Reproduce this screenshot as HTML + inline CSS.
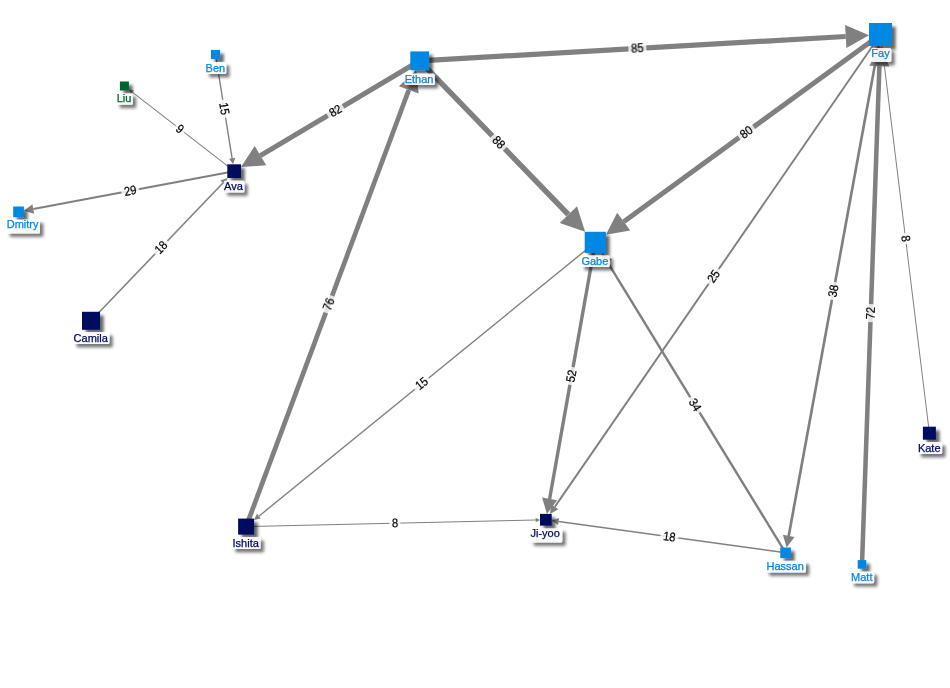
<!DOCTYPE html>
<html><head><meta charset="utf-8"><title>Graph</title>
<style>
html,body{margin:0;padding:0;background:#fff;}
body{width:950px;height:688px;overflow:hidden;}
svg{display:block;font-family:"Liberation Sans",Arial,sans-serif;font-size:11px;}
.el{fill:#000;text-anchor:middle;font-size:12.4px;stroke:#000;stroke-width:0.2px;}
.nl{text-anchor:middle;stroke-width:0.25px;}
</style></head><body>
<svg width="950" height="688" viewBox="0 0 950 688">
<defs>
<filter id="sh" x="-50%" y="-50%" width="220%" height="220%">
<feDropShadow dx="3.7" dy="3.7" stdDeviation="1.6" flood-color="#000" flood-opacity="0.6"/>
</filter>
<filter id="sh2" x="-50%" y="-50%" width="220%" height="220%">
<feDropShadow dx="3.4" dy="3.4" stdDeviation="1.45" flood-color="#000" flood-opacity="0.6"/>
</filter>
</defs>
<rect width="950" height="688" fill="#fff"/>

<g><line x1="215.5" y1="54.5" x2="232.1" y2="158.3" stroke="#808080" stroke-width="1.39"/>
<line x1="234.2" y1="171.2" x2="132.6" y2="92.4" stroke="#808080" stroke-width="1.05"/>
<line x1="234.2" y1="171.2" x2="33.3" y2="209.0" stroke="#808080" stroke-width="2.16"/>
<line x1="91.0" y1="320.8" x2="222.9" y2="183.0" stroke="#808080" stroke-width="1.55"/>
<line x1="419.7" y1="60.8" x2="260.4" y2="155.6" stroke="#808080" stroke-width="5.07"/>
<line x1="419.7" y1="60.8" x2="845.7" y2="36.5" stroke="#808080" stroke-width="5.24"/>
<line x1="419.7" y1="60.8" x2="568.3" y2="214.5" stroke="#808080" stroke-width="5.40"/>
<line x1="880.5" y1="34.5" x2="623.7" y2="221.7" stroke="#808080" stroke-width="4.96"/>
<line x1="246.1" y1="526.6" x2="408.8" y2="90.0" stroke="#808080" stroke-width="4.74"/>
<line x1="595.3" y1="242.4" x2="258.9" y2="516.2" stroke="#808080" stroke-width="1.39"/>
<line x1="595.3" y1="242.4" x2="549.6" y2="499.0" stroke="#808080" stroke-width="3.42"/>
<line x1="785.6" y1="552.8" x2="607.5" y2="262.2" stroke="#808080" stroke-width="2.43"/>
<line x1="880.5" y1="34.5" x2="554.8" y2="506.9" stroke="#808080" stroke-width="1.94"/>
<line x1="880.5" y1="34.5" x2="788.7" y2="535.9" stroke="#808080" stroke-width="2.65"/>
<line x1="862.0" y1="564.4" x2="879.4" y2="66.1" stroke="#808080" stroke-width="4.52"/>
<line x1="929.4" y1="433.2" x2="882.5" y2="50.4" stroke="#808080" stroke-width="1.00"/>
<line x1="246.1" y1="526.6" x2="535.6" y2="520.0" stroke="#808080" stroke-width="1.00"/>
<line x1="785.6" y1="552.8" x2="558.6" y2="521.5" stroke="#808080" stroke-width="1.55"/></g>

<g><polygon points="233.1,164.3 229.1,158.8 235.2,157.8" fill="#808080"/>
<polygon points="128.9,89.5 134.0,90.5 131.2,94.2" fill="#808080"/>
<polygon points="23.9,210.8 32.4,204.3 34.2,213.7" fill="#808080"/>
<polygon points="227.6,178.0 225.4,185.4 220.4,180.6" fill="#808080"/>
<polygon points="241.0,167.1 254.7,145.9 266.2,165.3" fill="#808080"/>
<polygon points="869.0,35.2 846.4,48.1 845.1,24.9" fill="#808080"/>
<polygon points="585.1,231.8 559.7,222.9 577.0,206.2" fill="#808080"/>
<polygon points="605.9,234.7 617.2,212.8 630.2,230.6" fill="#808080"/>
<polygon points="416.2,70.2 418.7,93.6 398.9,86.3" fill="#808080"/>
<polygon points="254.1,520.1 256.9,513.8 260.8,518.6" fill="#808080"/>
<polygon points="546.9,513.9 542.1,497.6 557.1,500.3" fill="#808080"/>
<polygon points="601.8,253.0 612.1,259.4 602.8,265.0" fill="#808080"/>
<polygon points="549.9,513.9 551.3,504.4 558.4,509.3" fill="#808080"/>
<polygon points="786.6,547.5 782.9,534.8 794.5,537.0" fill="#808080"/>
<polygon points="880.1,46.0 889.4,66.5 869.3,65.8" fill="#808080"/>
<polygon points="881.9,46.0 884.7,50.1 880.2,50.7" fill="#808080"/>
<polygon points="540.0,519.9 535.7,522.3 535.6,517.8" fill="#808080"/>
<polygon points="551.8,520.6 559.1,518.1 558.1,525.0" fill="#808080"/></g>

<g opacity="0.999"><g transform="translate(224.2,108.7) rotate(80.9)"><rect x="-9.0" y="-6.0" width="18.0" height="12" fill="#fff" fill-opacity="0.8"/><text class="el" transform="scale(0.9,1)" x="0" y="4.0">15</text></g>
<g transform="translate(180.0,129.1) rotate(37.8)"><rect x="-5.6" y="-6.0" width="11.1" height="12" fill="#fff" fill-opacity="0.8"/><text class="el" transform="scale(0.9,1)" x="0" y="4.0">9</text></g>
<g transform="translate(130.3,190.8) rotate(-10.7)"><rect x="-9.0" y="-6.0" width="18.0" height="12" fill="#fff" fill-opacity="0.8"/><text class="el" transform="scale(0.9,1)" x="0" y="4.0">29</text></g>
<g transform="translate(161.2,247.4) rotate(-46.3)"><rect x="-9.0" y="-6.0" width="18.0" height="12" fill="#fff" fill-opacity="0.8"/><text class="el" transform="scale(0.9,1)" x="0" y="4.0">18</text></g>
<g transform="translate(335.4,111.0) rotate(-30.8)"><rect x="-9.0" y="-6.0" width="18.0" height="12" fill="#fff" fill-opacity="0.8"/><text class="el" transform="scale(0.9,1)" x="0" y="4.0">82</text></g>
<g transform="translate(637.4,48.4) rotate(-3.3)"><rect x="-9.0" y="-6.0" width="18.0" height="12" fill="#fff" fill-opacity="0.8"/><text class="el" transform="scale(0.9,1)" x="0" y="4.0">85</text></g>
<g transform="translate(498.6,142.4) rotate(46.0)"><rect x="-9.0" y="-6.0" width="18.0" height="12" fill="#fff" fill-opacity="0.8"/><text class="el" transform="scale(0.9,1)" x="0" y="4.0">88</text></g>
<g transform="translate(746.4,132.3) rotate(-36.1)"><rect x="-9.0" y="-6.0" width="18.0" height="12" fill="#fff" fill-opacity="0.8"/><text class="el" transform="scale(0.9,1)" x="0" y="4.0">80</text></g>
<g transform="translate(329.0,304.3) rotate(-69.6)"><rect x="-9.0" y="-6.0" width="18.0" height="12" fill="#fff" fill-opacity="0.8"/><text class="el" transform="scale(0.9,1)" x="0" y="4.0">76</text></g>
<g transform="translate(421.8,383.6) rotate(-39.1)"><rect x="-9.0" y="-6.0" width="18.0" height="12" fill="#fff" fill-opacity="0.8"/><text class="el" transform="scale(0.9,1)" x="0" y="4.0">15</text></g>
<g transform="translate(571.5,376.0) rotate(-79.9)"><rect x="-9.0" y="-6.0" width="18.0" height="12" fill="#fff" fill-opacity="0.8"/><text class="el" transform="scale(0.9,1)" x="0" y="4.0">52</text></g>
<g transform="translate(694.9,404.9) rotate(58.5)"><rect x="-9.0" y="-6.0" width="18.0" height="12" fill="#fff" fill-opacity="0.8"/><text class="el" transform="scale(0.9,1)" x="0" y="4.0">34</text></g>
<g transform="translate(713.7,276.4) rotate(-55.4)"><rect x="-9.0" y="-6.0" width="18.0" height="12" fill="#fff" fill-opacity="0.8"/><text class="el" transform="scale(0.9,1)" x="0" y="4.0">25</text></g>
<g transform="translate(833.5,291.0) rotate(-79.6)"><rect x="-9.0" y="-6.0" width="18.0" height="12" fill="#fff" fill-opacity="0.8"/><text class="el" transform="scale(0.9,1)" x="0" y="4.0">38</text></g>
<g transform="translate(870.8,313.1) rotate(-88.0)"><rect x="-9.0" y="-6.0" width="18.0" height="12" fill="#fff" fill-opacity="0.8"/><text class="el" transform="scale(0.9,1)" x="0" y="4.0">72</text></g>
<g transform="translate(905.5,238.6) rotate(83.0)"><rect x="-5.6" y="-6.0" width="11.1" height="12" fill="#fff" fill-opacity="0.8"/><text class="el" transform="scale(0.9,1)" x="0" y="4.0">8</text></g>
<g transform="translate(394.9,523.2) rotate(-1.3)"><rect x="-5.6" y="-6.0" width="11.1" height="12" fill="#fff" fill-opacity="0.8"/><text class="el" transform="scale(0.9,1)" x="0" y="4.0">8</text></g>
<g transform="translate(669.4,536.8) rotate(7.8)"><rect x="-9.0" y="-6.0" width="18.0" height="12" fill="#fff" fill-opacity="0.8"/><text class="el" transform="scale(0.9,1)" x="0" y="4.0">18</text></g></g>

<g filter="url(#sh)">
<rect x="210.9" y="49.9" width="9.2" height="9.2" fill="#0088E3"/>
<rect x="119.9" y="81.5" width="9.0" height="9.0" fill="#006432"/>
<rect x="227.3" y="164.3" width="13.7" height="13.7" fill="#000B5F"/>
<rect x="13.2" y="206.5" width="10.7" height="10.7" fill="#0088E3"/>
<rect x="82.0" y="311.8" width="18.0" height="18.0" fill="#000B5F"/>
<rect x="410.3" y="51.4" width="18.8" height="18.8" fill="#0088E3"/>
<rect x="869.0" y="23.0" width="23.0" height="23.0" fill="#0088E3"/>
<rect x="584.7" y="231.8" width="21.2" height="21.2" fill="#0088E3"/>
<rect x="238.1" y="518.6" width="16.0" height="16.0" fill="#000B5F"/>
<rect x="540.0" y="513.9" width="11.7" height="11.7" fill="#000B5F"/>
<rect x="780.3" y="547.5" width="10.6" height="10.6" fill="#0088E3"/>
<rect x="857.7" y="560.1" width="8.6" height="8.6" fill="#0088E3"/>
<rect x="922.9" y="426.7" width="13.0" height="13.0" fill="#000B5F"/>
</g>

<g filter="url(#sh2)">
<rect x="205.8" y="62.1" width="20.4" height="11.9" rx="1.5" fill="#fff" fill-opacity="0.88"/>
<rect x="116.3" y="93.2" width="16.5" height="11.6" rx="1.5" fill="#fff" fill-opacity="0.88"/>
<rect x="223.8" y="180.4" width="20.6" height="12.0" rx="1.5" fill="#fff" fill-opacity="0.88"/>
<rect x="6.3" y="219.5" width="33.7" height="13.9" rx="1.5" fill="#fff" fill-opacity="0.88"/>
<rect x="73.2" y="332.1" width="36.2" height="11.8" rx="1.5" fill="#fff" fill-opacity="0.88"/>
<rect x="404.4" y="73.4" width="30.5" height="11.6" rx="1.5" fill="#fff" fill-opacity="0.88"/>
<rect x="871.0" y="47.9" width="20.3" height="14.2" rx="1.5" fill="#fff" fill-opacity="0.88"/>
<rect x="581.1" y="255.3" width="28.7" height="11.8" rx="1.5" fill="#fff" fill-opacity="0.88"/>
<rect x="232.0" y="537.1" width="28.6" height="11.8" rx="1.5" fill="#fff" fill-opacity="0.88"/>
<rect x="530.3" y="528.3" width="32.0" height="14.1" rx="1.5" fill="#fff" fill-opacity="0.88"/>
<rect x="765.7" y="560.8" width="40.2" height="11.8" rx="1.5" fill="#fff" fill-opacity="0.88"/>
<rect x="850.7" y="571.4" width="23.4" height="11.8" rx="1.5" fill="#fff" fill-opacity="0.88"/>
<rect x="917.6" y="442.1" width="24.5" height="11.8" rx="1.5" fill="#fff" fill-opacity="0.88"/>
</g>
<g opacity="0.999">
<text class="nl" x="215.4" y="71.6" fill="#0088E3" stroke="#0088E3">Ben</text>
<text class="nl" x="124.0" y="102.4" fill="#006432" stroke="#006432">Liu</text>
<text class="nl" x="233.5" y="189.6" fill="#000B5F" stroke="#000B5F">Ava</text>
<text class="nl" x="22.6" y="228.3" fill="#0088E3" stroke="#0088E3">Dmitry</text>
<text class="nl" x="90.7" y="341.7" fill="#000B5F" stroke="#000B5F">Camila</text>
<text class="nl" x="419.0" y="82.8" fill="#0088E3" stroke="#0088E3">Ethan</text>
<text class="nl" x="880.5" y="56.9" fill="#0088E3" stroke="#0088E3">Fay</text>
<text class="nl" x="594.9" y="264.6" fill="#0088E3" stroke="#0088E3">Gabe</text>
<text class="nl" x="245.7" y="546.5" fill="#000B5F" stroke="#000B5F">Ishita</text>
<text class="nl" x="545.2" y="537.1" fill="#000B5F" stroke="#000B5F">Ji-yoo</text>
<text class="nl" x="785.2" y="569.6" fill="#0088E3" stroke="#0088E3">Hassan</text>
<text class="nl" x="861.8" y="580.9" fill="#0088E3" stroke="#0088E3">Matt</text>
<text class="nl" x="929.2" y="451.5" fill="#000B5F" stroke="#000B5F">Kate</text>
</g>
</svg></body></html>
